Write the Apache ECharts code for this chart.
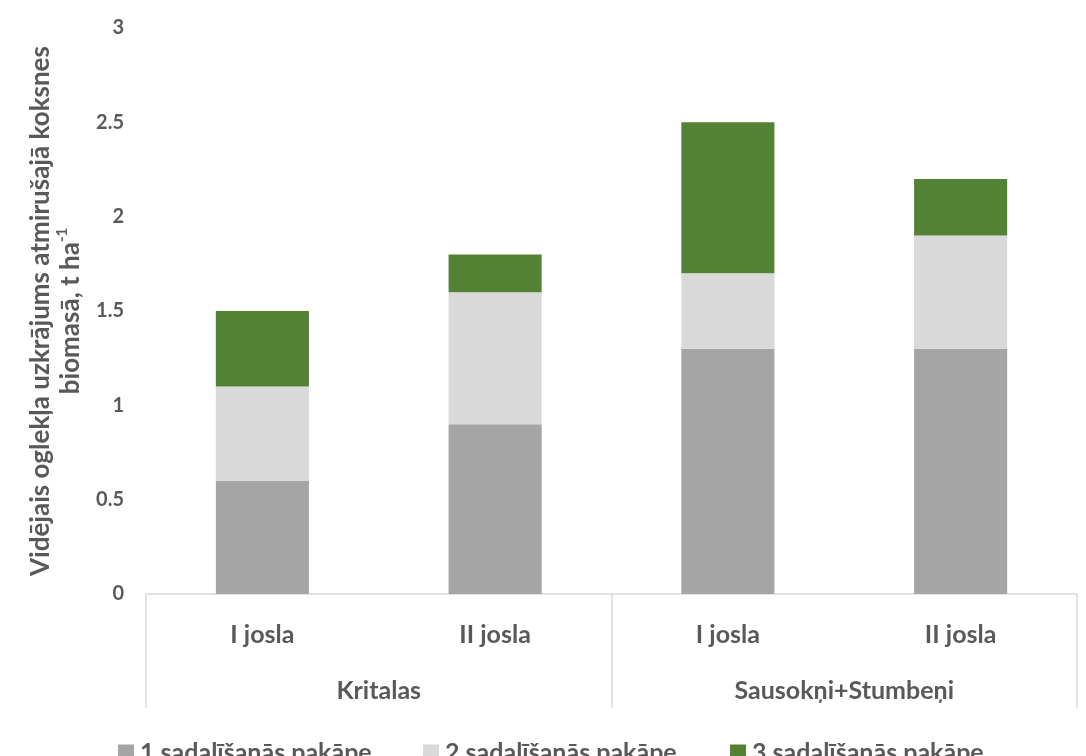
<!DOCTYPE html>
<html><head><meta charset="utf-8">
<script src="https://cdn.jsdelivr.net/npm/echarts@6/dist/echarts.min.js"></script>
<style>html,body{margin:0;padding:0;background:#fff}#c{width:1086px;height:756px}</style>
</head><body><div id="c"></div>
<script>
const categories = ["I josla","II josla","I josla","II josla"];
const groups = ["Kritalas","Sausokņi+Stumbeņi"];
const seriesNames = ["1 sadalīšanās pakāpe","2 sadalīšanās pakāpe","3 sadalīšanās pakāpe"];
const stage1 = [0.6, 0.9, 1.3, 1.3];
const stage2 = [0.5, 0.7, 0.4, 0.6];
const stage3 = [0.4, 0.2, 0.8, 0.3];
const colors = ["#A5A5A5","#D9D9D9","#548235"];
const FONT = "Lato, 'Open Sans', sans-serif";
const TXT = "#595959";
const legendLeft = [113, 418, 725];

const chart = echarts.init(document.getElementById('c'));
chart.setOption({
  animation:false,
  color: colors,
  grid:{left:146,right:9,top:28,bottom:162},
  legend: seriesNames.map((n,i)=>({
    left:legendLeft[i], top:735, itemWidth:16, itemHeight:16, itemGap:10, icon:'rect',
    textStyle:{fontFamily:FONT,fontSize:25,fontWeight:'bold',color:TXT,padding:[0,0,0,1]},
    data:[n]
  })),
  xAxis:[{
    type:'category', data:categories, position:'bottom',
    axisLine:{show:true,lineStyle:{color:'#D9D9D9',width:1.5}},
    axisTick:{show:false},
    axisLabel:{margin:28,fontFamily:FONT,fontSize:25,fontWeight:'bold',color:TXT}
  },{
    type:'category', data:groups, position:'bottom', offset:0,
    axisLine:{show:false},
    axisTick:{show:true,length:114,lineStyle:{color:'#D9D9D9',width:1.5}},
    axisLabel:{margin:84,fontFamily:FONT,fontSize:25,fontWeight:'bold',color:TXT}
  }],
  yAxis:{
    type:'value', min:0, max:3, interval:0.5,
    axisLine:{show:false}, axisTick:{show:false}, splitLine:{show:false},
    axisLabel:{margin:22,fontFamily:FONT,fontSize:20,fontWeight:'bold',color:TXT},
    name:'Vidējais oglekļa uzkrājums atmirušajā koksnes\nbiomasā, t ha{sup|-1}',
    nameLocation:'middle', nameGap:60, nameRotate:90,
    nameTextStyle:{fontFamily:FONT,fontSize:26,fontWeight:'bold',color:TXT,lineHeight:30,align:'center',
      rich:{sup:{fontFamily:FONT,fontSize:15,fontWeight:'bold',color:TXT,verticalAlign:'top',padding:[0,0,10,0]}}}
  },
  series:[
    {name:seriesNames[0],type:'bar',stack:'s',barWidth:'40%',data:stage1,itemStyle:{color:colors[0]}},
    {name:seriesNames[1],type:'bar',stack:'s',barWidth:'40%',data:stage2,itemStyle:{color:colors[1]}},
    {name:seriesNames[2],type:'bar',stack:'s',barWidth:'40%',data:stage3,itemStyle:{color:colors[2]}}
  ]
});
</script></body></html>
